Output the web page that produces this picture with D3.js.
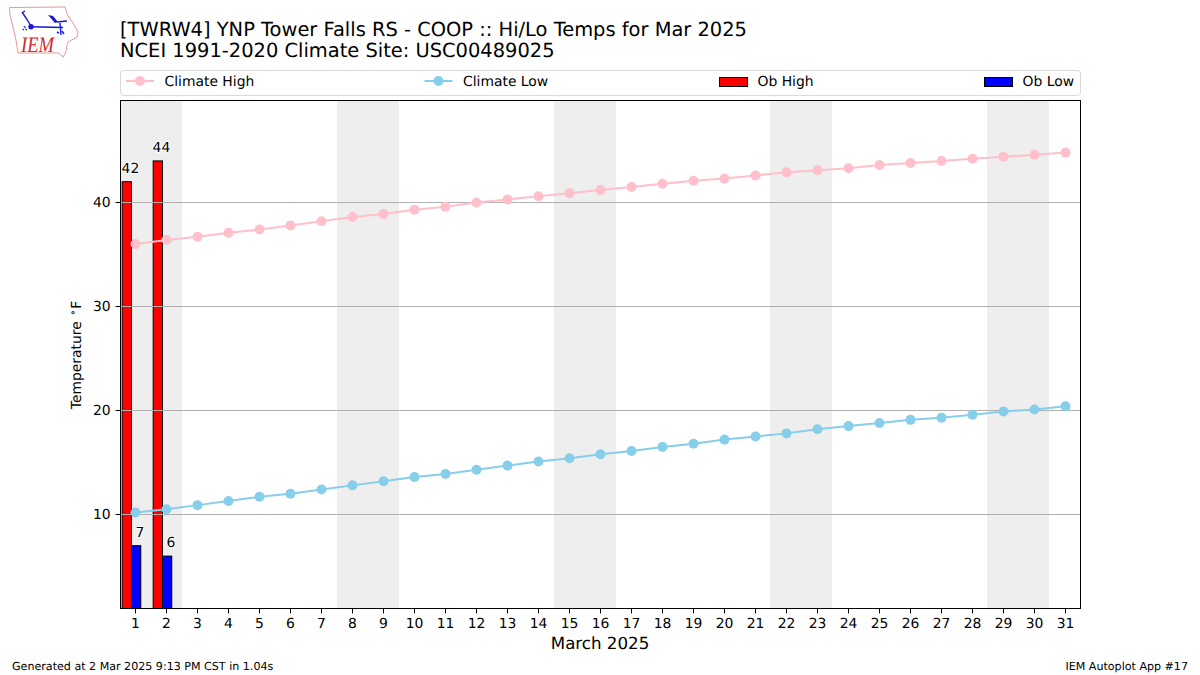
<!DOCTYPE html>
<html><head><meta charset="utf-8">
<script src="https://cdn.jsdelivr.net/npm/d3@7"></script>
<style>html,body{margin:0;padding:0;background:#fff}svg{display:block}text{font-family:"DejaVu Sans",sans-serif;fill:#000;text-rendering:geometricPrecision}</style>
</head><body><svg id="c" width="1200" height="675"></svg>
<script>
const days = d3.range(1, 32);
const climateHigh = [36.0,36.4,36.7,37.1,37.4,37.8,38.2,38.6,38.9,39.3,39.6,40.0,40.3,40.6,40.9,41.2,41.5,41.8,42.1,42.3,42.6,42.9,43.1,43.3,43.6,43.8,44.0,44.2,44.4,44.6,44.8];
const climateLow = [10.2,10.5,10.9,11.3,11.7,12.0,12.4,12.8,13.2,13.6,13.9,14.3,14.7,15.1,15.4,15.8,16.1,16.5,16.8,17.2,17.5,17.8,18.2,18.5,18.8,19.1,19.3,19.6,19.9,20.1,20.4];
const obHighDays = [1, 2];
const obHigh = [42, 44];
const obLowDays = [1, 2];
const obLow = [7, 6];
const weekendStarts = [1, 8, 15, 22, 29];
const yTicks = [10, 20, 30, 40];
const legendLabels = ["Climate High", "Climate Low", "Ob High", "Ob Low"];
const titleLines = ["[TWRW4] YNP Tower Falls RS - COOP :: Hi/Lo Temps for Mar 2025", "NCEI 1991-2020 Climate Site: USC00489025"];

const svg = d3.select("#c");
const L = 120.5, R = 1080.5, T = 100.5, B = 608.5;
const x = d3.scaleLinear().domain([1 - 15 / 31, 1 + 945 / 31]).range([L, R]);
const y = d3.scaleLinear().domain([0.96, 49.81]).range([B, T]);
const barW = x(0.3) - x(0);
// weekend shading runs on a very slightly shorter step than the day ticks
const xBand = d3.scaleLinear().domain([1, 29]).range([120.2, 987.1]);

// weekend bands
svg.append("g").selectAll("rect").data(weekendStarts).join("rect")
  .attr("x", d => Math.max(L, Math.round(xBand(d))))
  .attr("width", d => Math.round(xBand(d)) + 62 - Math.max(L, Math.round(xBand(d))))
  .attr("y", T).attr("height", B - T).attr("fill", "#eeeeee");

// bars
const bars = svg.append("g");
bars.selectAll(".hi").data(obHigh).join("rect")
  .attr("x", (d, i) => x(obHighDays[i] - 0.43)).attr("width", barW)
  .attr("y", d => y(d)).attr("height", d => B - y(d))
  .attr("fill", "#ff0000").attr("stroke", "#000").attr("stroke-width", 1);
bars.selectAll(".lo").data(obLow).join("rect")
  .attr("x", (d, i) => x(obLowDays[i] - 0.13)).attr("width", barW)
  .attr("y", d => y(d)).attr("height", d => B - y(d))
  .attr("fill", "#0000ff").attr("stroke", "#000").attr("stroke-width", 1);

// grid
svg.append("g").selectAll("line").data(yTicks).join("line")
  .attr("x1", L).attr("x2", R).attr("y1", d => y(d)).attr("y2", d => y(d))
  .attr("stroke", "#b0b0b0").attr("stroke-width", 1);

// climate lines
function series(vals, color) {
  const line = d3.line().x((d, i) => x(days[i])).y(d => y(d));
  const g = svg.append("g");
  g.append("path").attr("d", line(vals)).attr("fill", "none").attr("stroke", color).attr("stroke-width", 2);
  g.selectAll("circle").data(vals).join("circle")
    .attr("cx", (d, i) => x(days[i])).attr("cy", d => y(d)).attr("r", 5).attr("fill", color);
}
series(climateHigh, "#ffc0cb");
series(climateLow, "#87ceeb");

// bar labels
const lab = svg.append("g").attr("font-size", 13.9);
const halo = s => s.style("paint-order", "stroke").style("stroke", "#fff").style("stroke-width", 2);
obHigh.forEach((v, i) => halo(lab.append("text").attr("x", x(obHighDays[i] - 0.45)).attr("y", y(v) - 9).text(v)));
obLow.forEach((v, i) => halo(lab.append("text").attr("x", x(obLowDays[i])).attr("y", y(v) - 9).text(v)));

// axes
const frame = svg.append("g");
frame.append("rect").attr("x", L).attr("y", T).attr("width", R - L).attr("height", B - T)
  .attr("fill", "none").attr("stroke", "#000").attr("stroke-width", 1);
const xAxis = d3.axisBottom(x).offset(0).tickValues(days).tickFormat(d3.format("d")).tickSize(4.9).tickPadding(4.9);
const gx = svg.append("g").attr("transform", `translate(0,${B})`).call(xAxis);
const yAxis = d3.axisLeft(y).offset(0).tickValues(yTicks).tickSize(4.9).tickPadding(4.9);
const gy = svg.append("g").attr("transform", `translate(${L},0)`).call(yAxis);
[gx, gy].forEach(g => {
  g.select(".domain").remove();
  g.selectAll("text").attr("font-size", 13.9).attr("font-family", '"DejaVu Sans"').attr("fill", "#000");
  g.selectAll("line").attr("stroke", "#000");
});

svg.append("text").attr("x", 600).attr("y", 649).attr("text-anchor", "middle").attr("font-size", 16.67).text("March 2025");
const yl = svg.append("text").attr("transform", "translate(80.5,355) rotate(-90)").attr("text-anchor", "middle").attr("font-size", 13.9);
yl.append("tspan").text("Temperature ");
yl.append("tspan").attr("font-size", 9.7).attr("font-weight", "bold").attr("dy", -5).attr("dx", 1).text("∘");
yl.append("tspan").attr("dy", 5).attr("dx", 1).text("F");

// titles
titleLines.forEach((t, i) => svg.append("text").attr("x", 120).attr("y", 35.5 + i * 21.7).attr("font-size", 19.44).text(t));

// footer
svg.append("text").attr("x", 12).attr("y", 670).attr("font-size", 11.1).text("Generated at 2 Mar 2025 9:13 PM CST in 1.04s");
svg.append("text").attr("x", 1188).attr("y", 670).attr("text-anchor", "end").attr("font-size", 11.1).text("IEM Autoplot App #17");

// legend
const lg = svg.append("g");
lg.append("rect").attr("x", L).attr("y", 70.5).attr("width", R - L).attr("height", 25).attr("rx", 3)
  .attr("fill", "#fff").attr("stroke", "#d9d9d9").attr("stroke-width", 1);
const handleX = [126, 424.5, 719, 984];
const lineColors = ["#ffc0cb", "#87ceeb"], patchColors = ["#ff0000", "#0000ff"];
legendLabels.forEach((t, i) => {
  const hx = handleX[i];
  if (i < 2) {
    lg.append("line").attr("x1", hx).attr("x2", hx + 28).attr("y1", 81).attr("y2", 81).attr("stroke", lineColors[i]).attr("stroke-width", 2);
    lg.append("circle").attr("cx", hx + 14).attr("cy", 81).attr("r", 5).attr("fill", lineColors[i]);
  } else {
    lg.append("rect").attr("x", hx + .5).attr("y", 77.5).attr("width", 28).attr("height", 9).attr("fill", patchColors[i - 2]).attr("stroke", "#000");
  }
  lg.append("text").attr("x", hx + 38.5).attr("y", 86).attr("font-size", 13.9).text(t);
});

// logo
const logo = svg.append("g");
logo.append("path").attr("d", "M9.5 7.5 L65 7 L67.5 15 L73 23 L78 32 L77 37 L68 42 L67 45 L66 52 L63 57 L59 53 L18 53 L16 40 L12 23 L10 15 Z")
  .attr("fill", "#fff").attr("stroke", "#e29a9a").attr("stroke-width", 1);
const blue = "#1818d8";
logo.append("path").attr("d", "M31 26.7 L63 27.5 M57 22 L67 21 M60 23 L61 35 M22 12 L26 18 L31 26 M22 13 L25 11 M57 32 L59 33 M62 31 L64 34")
  .attr("fill", "none").attr("stroke", blue).attr("stroke-width", 1.4);
logo.append("path").attr("d", "M48 15 L53 16 L58 22 L55 23 Z").attr("fill", blue);
logo.append("circle").attr("cx", 31).attr("cy", 26.7).attr("r", 2.7).attr("fill", blue);
logo.append("path").attr("d", "M24 26 L25.5 28 M22.5 29 L24 30 M25.5 29 L27 30").attr("stroke", blue).attr("stroke-width", 1.2).attr("fill", "none");
logo.append("text").attr("x", 21).attr("y", 52).attr("font-size", 22).attr("textLength", 33).attr("lengthAdjust", "spacingAndGlyphs")
  .attr("font-style", "italic").style("font-family", '"Liberation Serif",serif').style("fill", "#d42a30").text("IEM");
</script></body></html>
